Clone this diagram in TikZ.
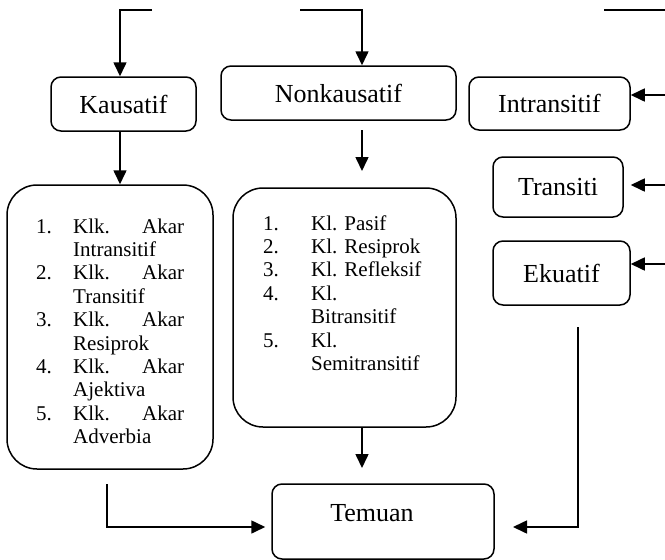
\documentclass[tikz,border=0pt]{standalone}
\usepackage{fontspec}
\setmainfont{Liberation Serif}
\usetikzlibrary{arrows.meta}
\begin{document}
\begin{tikzpicture}[x=1pt,y=-1pt,
  box/.style={draw,line width=1.5pt,rounded corners=10pt,inner sep=0pt,
    font=\fontsize{26}{30}\selectfont},
  bigbox/.style={draw,line width=1.5pt,rounded corners=30pt,inner sep=0pt},
  listtext/.style={inner sep=0pt,anchor=base west,font=\fontsize{21}{23.4}\selectfont},
  arr/.style={line width=1.6pt,-{Triangle[length=14pt,width=13pt]}},
  plain/.style={line width=1.6pt}]
\useasboundingbox (0,0) rectangle (665,560);
% boxes
\node[box,minimum width=145pt,minimum height=54pt] (kaus) at (123.5,104) {Kausatif};
\node[box,minimum width=235pt,minimum height=54pt] (nonk) at (338.5,93) {Nonkausatif};
\node[box,minimum width=161pt,minimum height=53pt] (intr) at (549.5,103.5) {Intransitif};
\node[box,minimum width=130pt,minimum height=60pt] (tran) at (558,187) {Transiti};
\node[box,minimum width=137pt,minimum height=64pt] (ekua) at (561.5,273) {Ekuatif};
\node[bigbox,minimum width=206pt,minimum height=284pt] (llist) at (110,327) {};
\node[bigbox,minimum width=223pt,minimum height=239pt] (mlist) at (344.5,307.5) {};
\node[box,minimum width=222pt,minimum height=75pt] (tem) at (383,521.5) {};
\node[inner sep=0pt,font=\fontsize{26}{30}\selectfont] (temlabel) at (372,513) {Temuan};
% list texts
\node[listtext] (ltext) at (36,233) {\begin{tabular}[t]{@{}p{37pt}@{}l@{}}
1. & \makebox[111pt][s]{Klk. Akar}\\
   & Intransitif\\
2. & \makebox[111pt][s]{Klk. Akar}\\
   & Transitif\\
3. & \makebox[111pt][s]{Klk. Akar}\\
   & Resiprok\\
4. & \makebox[111pt][s]{Klk. Akar}\\
   & Ajektiva\\
5. & \makebox[111pt][s]{Klk. Akar}\\
   & Adverbia
\end{tabular}};
\node[listtext] (mtext) at (263,230) {\begin{tabular}[t]{@{}p{48pt}@{}l@{}}
1. & Kl. Pasif\\
2. & Kl. Resiprok\\
3. & Kl. Refleksif\\
4. & Kl.\\
   & Bitransitif\\
5. & Kl.\\
   & Semitransitif
\end{tabular}};
% free-end coordinates
\coordinate (tl1) at (152,10);
\coordinate (tl2) at (120,10);
\coordinate (tm1) at (300,10);
\coordinate (tm2) at (362,10);
\coordinate (tr1) at (604,10);
\coordinate (tr2) at (665,10);
\coordinate (na1) at (362,130);
\coordinate (na2) at (362,171);
\coordinate (ai) at (665,95);
\coordinate (at) at (665,185);
\coordinate (ae) at (665,264);
\coordinate (mt) at (362,468);
\coordinate (lc1) at (107,484);
\coordinate (lc2) at (107,527);
\coordinate (rc1) at (578,327);
\coordinate (rc2) at (578,527);
\coordinate (rc3) at (513,527);
% connectors
\draw[arr] (tl1) -- (tl2) -- (tl2 |- kaus.north);
\draw[arr] (tl2 |- kaus.south) -- (tl2 |- llist.north);
\draw[arr] (tm1) -- (tm2) -- (tm2 |- nonk.north);
\draw[plain] (tr1) -- (tr2);
\draw[arr] (na1) -- (na2);
\draw[arr] (ai) -- (ai -| intr.east);
\draw[arr,shorten >=7pt] (at) -- (at -| tran.east);
\draw[arr] (ae) -- (ae -| ekua.east);
\draw[arr] (mt |- mlist.south) -- (mt);
\draw[arr,shorten >=6pt] (lc1) -- (lc2) -- (lc2 -| tem.west);
\draw[arr] (rc1) -- (rc2) -- (rc3);
\end{tikzpicture}
\end{document}
